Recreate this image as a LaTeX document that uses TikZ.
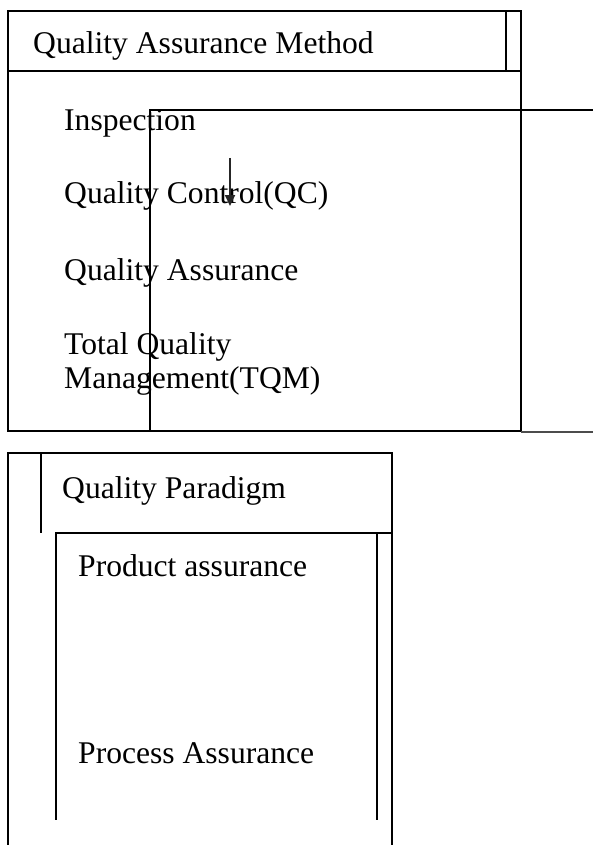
\documentclass[tikz,border=0pt]{standalone}
\usepackage{fontspec}
\setmainfont{Liberation Serif}
\usetikzlibrary{arrows.meta}
\begin{document}
\begin{tikzpicture}[x=1pt,y=-1pt,
  frame/.style={line width=2.2pt,line cap=rect},
  thin/.style={line width=1.6pt},
  faint/.style={line width=1.2pt,black!70},
  lbl/.style={anchor=base west,inner sep=0pt,font=\fontsize{31.6}{37}\selectfont}]
\useasboundingbox (0,0) rectangle (593,845);
% top box
\draw[frame] (8,11) rectangle (521,431);
\draw[frame] (8,71) -- (521,71);
\draw[frame] (506,11) -- (506,71);
\draw[thin] (593,110) -- (150,110) -- (150,431);
\draw[faint] (521,432) -- (593,432);
\node[lbl] (qam) at (33,54) {Quality Assurance Method};
\node[lbl] (insp) at (64,131) {Inspection};
\node[lbl] (qc) at (64,204) {Quality Control(QC)};
\node[lbl] (qa) at (64,280) {Quality Assurance};
\node[lbl] (tq) at (64,354) {Total Quality};
\node[lbl] (tqm) at (64,388) {Management(TQM)};
\coordinate (a1) at (230,158);
\coordinate (a2) at (230,206);
\draw[line width=1.8pt,black!85,-{Triangle[length=11pt,width=10pt]}] (a1) -- (a2);
% bottom box
\draw[frame] (8,845) -- (8,453) -- (392,453) -- (392,845);
\draw[frame] (41,453) -- (41,532);
\draw[frame] (56,819) -- (56,533) -- (392,533);
\draw[frame] (377,533) -- (377,819);
\node[lbl] (qp) at (62,498) {Quality Paradigm};
\node[lbl] (pa) at (78,576) {Product assurance};
\node[lbl] (pra) at (78,763) {Process Assurance};
\end{tikzpicture}
\end{document}
